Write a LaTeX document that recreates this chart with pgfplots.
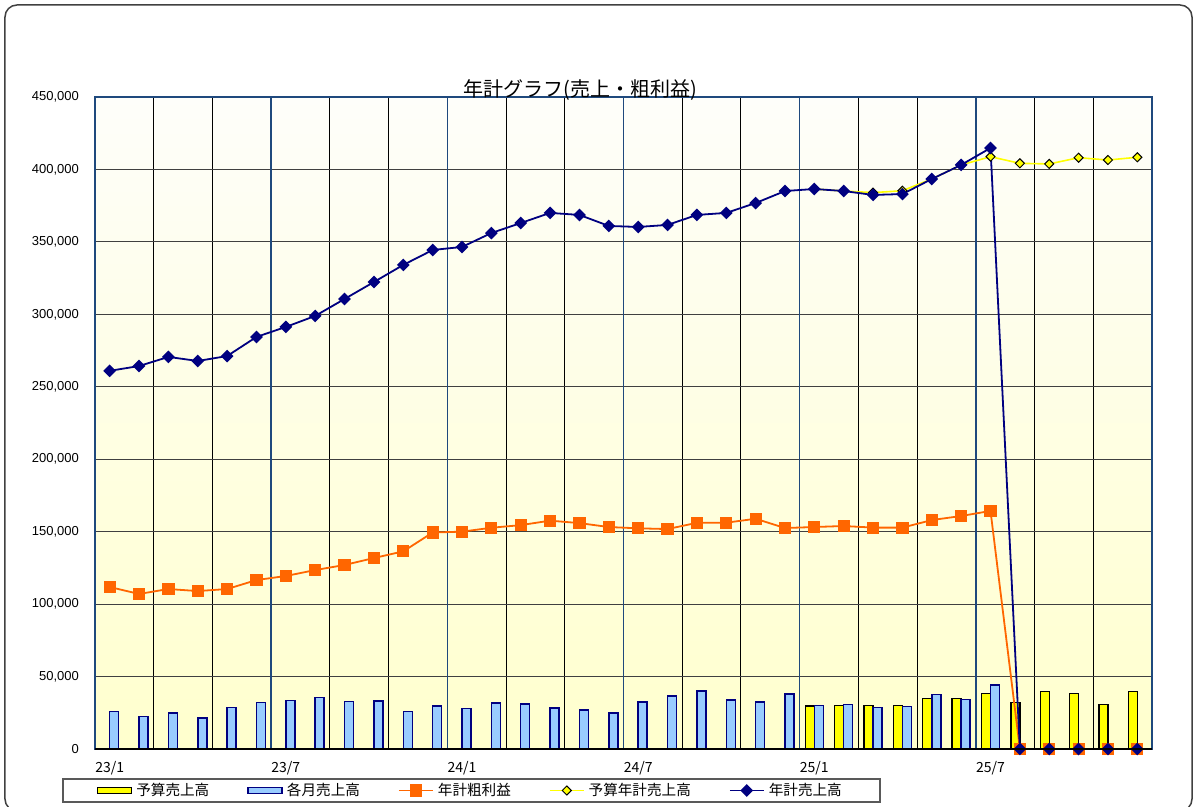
\documentclass[border=0pt]{standalone}
\usepackage{pgfplots}
\pgfplotsset{compat=1.18}
\usepackage{fontspec}
\setmainfont{Liberation Sans}
\newfontfamily\jp{Noto Sans CJK JP}
\definecolor{navyc}{RGB}{0,0,128}
\definecolor{orangec}{RGB}{255,102,0}
\definecolor{barblue}{RGB}{153,204,255}
\definecolor{axisblue}{RGB}{31,73,125}
\definecolor{gridc}{RGB}{64,64,64}
\definecolor{bgtop}{RGB}{254,254,250}
\definecolor{bgbot}{RGB}{255,255,205}
\definecolor{yel}{RGB}{255,255,0}
\begin{document}
\begin{tikzpicture}
\path[use as bounding box] (-47.5pt,-29pt) rectangle (552.5pt,374.5pt);
\draw[gridc, line width=0.75pt, rounded corners=6pt] (-45pt,-31pt) rectangle (548.5pt,372pt);
\begin{axis}[
 name=ax, at={(0,0)}, anchor=south west,
 scale only axis, width=528.5pt, height=326pt,
 xmin=-0.5, xmax=35.5, ymin=0, ymax=450000,
 xtick={0,6,12,18,24,30},
 xticklabels={23/1,23/7,24/1,24/7,25/1,25/7},
 minor xtick={1.5,3.5,7.5,9.5,13.5,15.5,19.5,21.5,25.5,27.5,31.5,33.5},
 xminorgrids=true, xmajorgrids=false,
 minor grid style={black, line width=0.5pt},
 extra x ticks={5.5,11.5,17.5,23.5,29.5},
 extra x tick labels={},
 extra x tick style={grid=major, major grid style={axisblue, line width=0.8pt}},
 ytick={0,50000,100000,150000,200000,250000,300000,350000,400000,450000},
 ymajorgrids=true,
 major grid style={gridc, line width=0.55pt},
 major tick length=0pt, minor tick length=0pt,
 scaled y ticks=false,
 yticklabel style={/pgf/number format/.cd, fixed, 1000 sep={,}, assume math mode=true, /tikz/.cd, font=\fontsize{6.5pt}{7pt}\selectfont, xshift=-4.5pt},
 xticklabel style={font=\jp\fontsize{7pt}{8pt}\selectfont, yshift=-2.5pt},
 axis background/.style={top color=bgtop, bottom color=bgbot},
 axis line style={axisblue, line width=0.9pt},
 title={年計グラフ(売上・粗利益)},
 title style={font=\jp\fontsize{10pt}{11pt}\selectfont, at={(0.4589,1)}, anchor=base, yshift=-6pt},
 legend columns=5,
 legend cell align=left,
 legend style={at={(0,0)}, anchor=north west, xshift=-16.5pt, yshift=-14.5pt,
   draw=gray!70!black, line width=0.8pt, fill=white,
   font=\jp\fontsize{7.3pt}{8pt}\selectfont, inner xsep=17pt, inner ysep=0pt,
   /tikz/every even column/.append style={column sep=17pt}},
]
\addplot[ybar, bar width=4.5pt, bar shift=-2.25pt, fill=yel, draw=black, line width=0.7pt,
  legend image code/.code={\draw[fill=yel,draw=black,line width=0.7pt] (0cm,-1.6pt) rectangle (0.6cm,1.6pt);}]
 coordinates {(24,29700)(25,29900)(26,29900)(27,29900)(28,35000)(29,35000)(30,38200)(31,32200)(32,39500)(33,38400)(34,30600)(35,39500)};
\addlegendentry{予算売上高}
\addplot[ybar, bar width=4.5pt, bar shift=2.25pt, fill=barblue, draw=navyc, line width=0.75pt,
  legend image code/.code={\draw[fill=barblue,draw=navyc,line width=0.75pt] (0cm,-1.6pt) rectangle (0.6cm,1.6pt);}]
 coordinates {(0,26000)(1,22300)(2,24800)(3,21400)(4,28500)(5,32000)(6,33400)(7,35700)(8,32700)(9,33100)(10,25800)(11,29500)(12,28100)(13,31700)(14,31000)(15,28300)(16,26900)(17,24800)(18,32400)(19,36600)(20,40000)(21,33800)(22,32400)(23,38000)(24,29900)(25,30600)(26,28500)(27,29200)(28,37700)(29,34000)(30,44200)};
\addlegendentry{各月売上高}
\addplot[orangec, line width=0.9pt, mark=square*, mark size=2.6pt, mark options={fill=orangec, draw=orangec}]
 coordinates {(0,111800)(1,107000)(2,110400)(3,109000)(4,110400)(5,116600)(6,119400)(7,123500)(8,127000)(9,131800)(10,136400)(11,149400)(12,150000)(13,152700)(14,154500)(15,157600)(16,155900)(17,153200)(18,152300)(19,151800)(20,156100)(21,156200)(22,158900)(23,152500)(24,153200)(25,153900)(26,152800)(27,152800)(28,158000)(29,160800)(30,164300)(31,0)(32,0)(33,0)(34,0)(35,0)};
\addlegendentry{年計粗利益}
\addplot[yel, line width=0.8pt, mark=square*, mark size=1.6pt, mark options={rotate=45, fill=yel, draw=black, line width=0.5pt}]
 coordinates {(24,386500)(25,385100)(26,384000)(27,385300)(28,393400)(29,403100)(30,408800)(31,404200)(32,403800)(33,408100)(34,406500)(35,408400)};
\addlegendentry{予算年計売上高}
\addplot[navyc, line width=0.9pt, mark=square*, mark size=1.8pt, mark options={rotate=45, fill=navyc, draw=navyc}]
 coordinates {(0,261000)(1,264300)(2,270600)(3,267800)(4,271200)(5,284400)(6,291300)(7,298900)(8,310600)(9,322300)(10,334100)(11,344400)(12,346500)(13,356100)(14,363000)(15,370000)(16,368600)(17,361000)(18,360300)(19,361700)(20,368600)(21,370000)(22,376800)(23,385100)(24,386500)(25,385100)(26,382400)(27,383000)(28,393400)(29,403100)(30,414800)(31,0)(32,0)(33,0)(34,0)(35,0)};
\addlegendentry{年計売上高}
\end{axis}
\draw[black, line width=0.8pt] (ax.south west) -- (ax.south east);
\end{tikzpicture}
\end{document}
